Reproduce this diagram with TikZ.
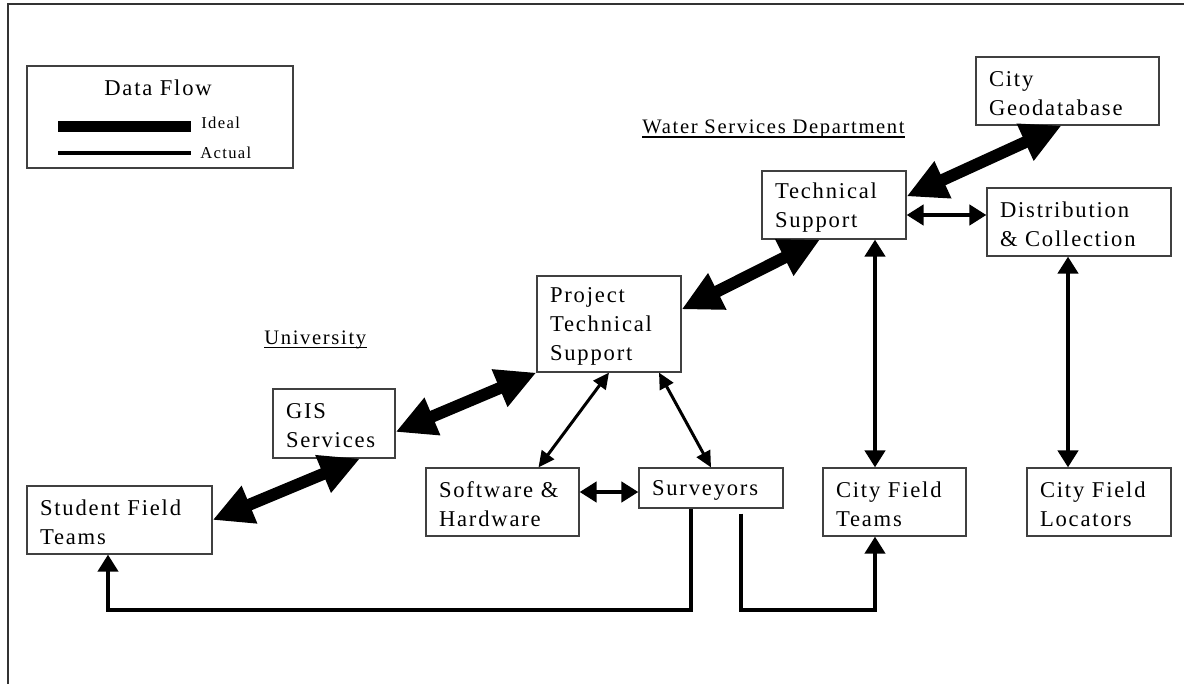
\documentclass[tikz,border=0pt]{standalone}
\usepackage{fontspec}
\setmainfont{Liberation Serif}[LetterSpace=8]
\usetikzlibrary{arrows.meta}

\newcommand\boxfont{\fontsize{11.3}{14.5}\selectfont}
\newcommand\headfont{\fontsize{10.3}{12}\selectfont}
\newcommand\keyfont{\fontsize{8.3}{10}\selectfont}

\tikzset{
  unit/.style={draw=black!75, line width=0.6pt, align=left, inner xsep=6.5pt,
    inner ysep=0pt, text height=10pt, minimum height=34pt, font=\boxfont},
  ideal/.style={line width=6pt,
    {Triangle[length=20pt,width=19pt]}-{Triangle[length=20pt,width=19pt]}},
  link/.style={line width=2.2pt,
    {Triangle[length=8.5pt,width=10pt]}-{Triangle[length=8.5pt,width=10pt]}},
  thinlink/.style={line width=1.5pt,
    {Triangle[length=8pt,width=7.5pt]}-{Triangle[length=8pt,width=7.5pt]}},
  route/.style={line width=2pt, -{Triangle[length=8.5pt,width=10pt]}},
  heading/.style={inner sep=0pt, anchor=base west, font=\headfont},
}

\begin{document}
\begin{tikzpicture}[x=0.5pt,y=-0.5pt]
  \useasboundingbox (0,0) rectangle (1184,684);
  \draw[black!80, line width=0.65pt] (1184,4) -- (8,4) -- (8,684);

  % legend
  \node[draw=black!75, line width=0.6pt, minimum width=133pt, minimum height=51pt] (key) at (160,117) {};
  \node[font=\boxfont] (keytitle) at (158,88) {Data Flow};
  \coordinate (idealA) at (58,126.5);
  \coordinate (idealB) at (191,126.5);
  \coordinate (actualA) at (58,153);
  \coordinate (actualB) at (191,153);
  \draw[line width=5.5pt] (idealA) -- (idealB);
  \draw[line width=2pt] (actualA) -- (actualB);
  \node[font=\keyfont, inner sep=0pt, anchor=west] (ideal) at ([xshift=5pt,yshift=2pt]idealB) {Ideal};
  \node[font=\keyfont, inner sep=0pt, anchor=west] (actual) at ([xshift=4.5pt]actualB) {Actual};

  % group headings
  \node[heading] (wsd) at (642,134) {Water Services Department};
  \node[heading] (uni) at (264,345) {University};
  \draw[line width=0.6pt] ([yshift=-1.5pt]wsd.base west) -- ([yshift=-1.5pt]wsd.base east);
  \draw[line width=0.6pt] ([yshift=-1.2pt]uni.base west) -- ([yshift=-1.2pt]uni.base east);

  \begin{scope}[every node/.style={unit}]
    \node[text width=78.5pt] (geo) at (1067.5,91) {City\\Geodatabase};
    \node[text width=59pt] (tech) at (834,205) {Technical\\Support};
    \node[text width=79pt] (dist) at (1079,222) {Distribution\\\& Collection};
    \node[text width=59pt, minimum height=48pt] (pts) at (609,324) {Project\\Technical\\Support};
    \node[text width=48pt, minimum height=34.5pt] (gis) at (334,423.5) {GIS\\Services};
    \node[text width=79.5pt] (sft) at (119.5,520) {Student Field\\Teams};
    \node[text width=63.5pt] (sh) at (502.5,502) {Software \&\\Hardware};
    \node[text width=59pt, minimum height=20pt] (surv) at (711,488) {Surveyors};
    \node[text width=58.5pt] (cft) at (894.5,502) {City Field\\Teams};
    \node[text width=59pt] (cfl) at (1099,502) {City Field\\Locators};
  \end{scope}

  % ideal flow
  \path ([yshift=-13pt]tech.north east) edge[ideal] ([xshift=-3pt]geo.south);
  \path ([yshift=-17pt]pts.north east) edge[ideal] ([xshift=-7pt]tech.south);
  \path (pts.south west) edge[ideal] ([yshift=-4.25pt]gis.east);
  \path (sft.east) edge[ideal] ([xshift=13pt]gis.south);

  % actual flow
  \path ([yshift=-5pt]tech.east) edge[link] ([yshift=-5pt]tech.east -| dist.west);
  \path ([xshift=20.5pt]tech.south) edge[link] ([xshift=20.5pt]tech.south |- cft.north);
  \path ([xshift=-5.5pt]dist.south) edge[link] ([xshift=-5.5pt]dist.south |- cfl.north);
  \path (pts.south) edge[thinlink] ([xshift=18pt]sh.north);
  \path ([xshift=25pt]pts.south) edge[thinlink] (surv.north);
  \path ([yshift=5pt]sh.east) edge[link] ([yshift=5pt]sh.east -| surv.west);
  \draw[route] ([xshift=-10pt]surv.south) -- ++(0,101) -| ([xshift=-5.75pt]sft.south);
  \draw[route] ([xshift=15pt,yshift=-2.5pt]surv.south) -- ++(0,96) -| ([xshift=-9.75pt]cft.south);
\end{tikzpicture}
\end{document}
